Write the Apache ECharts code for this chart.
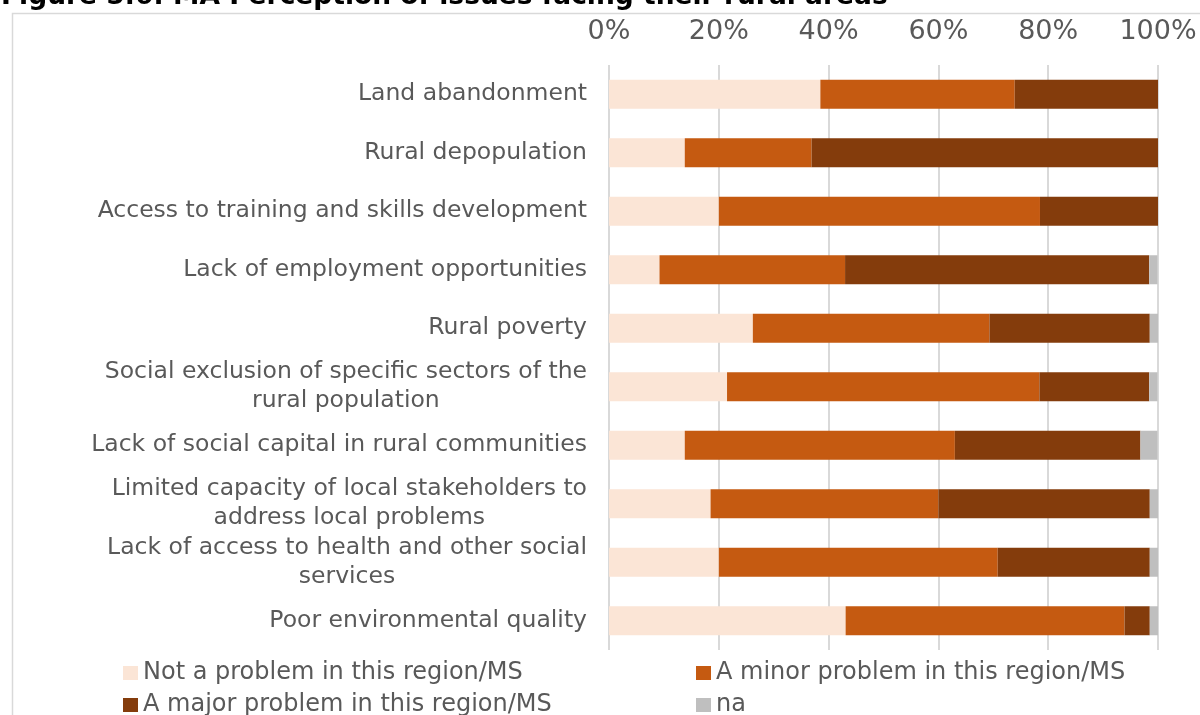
<!DOCTYPE html>
<html>
<head>
<meta charset="utf-8">
<script src="https://cdn.jsdelivr.net/npm/echarts@6/dist/echarts.min.js"></script>
<style>
  html, body { margin: 0; padding: 0; background: #fff; }
  #chart { width: 1200px; height: 715px; }
</style>
</head>
<body>
<div id="chart"></div>
<script>
// categories, top to bottom
var categories = [
  'Land abandonment',
  'Rural depopulation',
  'Access to training and skills development',
  'Lack of employment opportunities',
  'Rural poverty',
  'Social exclusion of specific sectors of the\nrural population',
  'Lack of social capital in rural communities',
  'Limited capacity of local stakeholders to\naddress local problems',
  'Lack of access to health and other social\nservices',
  'Poor environmental quality'
];

// share of answers, %
var notProblem = [38.5, 13.8, 20.0, 9.2, 26.2, 21.5, 13.8, 18.5, 20.0, 43.1];
var minorProblem = [35.4, 23.1, 58.5, 33.8, 43.1, 56.9, 49.2, 41.5, 50.8, 50.8];
var majorProblem = [26.1, 63.1, 21.5, 55.4, 29.2, 20.0, 33.8, 38.5, 27.7, 4.6];
var naShare = [0, 0, 0, 1.5, 1.5, 1.5, 3.1, 1.5, 1.5, 1.5];

var seriesNames = [
  'Not a problem in this region/MS',
  'A minor problem in this region/MS',
  'A major problem in this region/MS',
  'na'
];
var xTicks = [0, 20, 40, 60, 80, 100];

var FONT = '"DejaVu Sans", Verdana, sans-serif';
var labelSize = 23.5;

// two-line labels: lines centred on each other, block right aligned to the axis
var ctx = document.createElement('canvas').getContext('2d');
ctx.font = labelSize + 'px ' + FONT;
var yData = categories.map(function (name) {
  if (name.indexOf('\n') < 0) return name;
  var w = 0;
  name.split('\n').forEach(function (l) { w = Math.max(w, ctx.measureText(l).width); });
  return { value: name, textStyle: { align: 'center', padding: [0, w, 0, 0] } };
});

var chart = echarts.init(document.getElementById('chart'));

var legendBase = {
  orient: 'vertical',
  top: 656,
  height: 80,
  itemWidth: 15, itemHeight: 14, itemGap: 8,
  icon: 'rect',
  textStyle: { fontSize: 24, color: '#595959', fontFamily: FONT }
};

var option = {
  animation: false,
  color: ['#FBE5D6', '#C55A11', '#843C0C', '#BFBFBF'],
  textStyle: { fontFamily: FONT },
  graphic: [
    {
      type: 'rect',
      left: 10, top: 11,
      shape: { width: 1300, height: 800 },
      style: { fill: 'none', stroke: '#D9D9D9', lineWidth: 1.5 },
      silent: true
    },
    {
      type: 'text',
      x: 1, y: -3,
      style: {
        text: 'Figure 5.6: MA Perception of issues facing their rural areas',
        font: 'bold 26.5px ' + FONT,
        fill: '#000',
        verticalAlign: 'middle'
      }
    }
  ],
  legend: [
    Object.assign({ left: 118, data: [seriesNames[0], seriesNames[2]] }, legendBase),
    Object.assign({ left: 691, data: [seriesNames[1], seriesNames[3]] }, legendBase)
  ],
  grid: { left: 609, right: 42, top: 65, bottom: 65, containLabel: false },
  xAxis: {
    type: 'value',
    position: 'top',
    min: xTicks[0],
    max: xTicks[xTicks.length - 1],
    interval: 20,
    axisLine: { show: false },
    axisTick: { show: false },
    splitLine: { show: true, lineStyle: { color: '#D9D9D9', width: 2 } },
    axisLabel: {
      formatter: '{value}%',
      fontSize: 27,
      color: '#595959',
      margin: 20,
      fontFamily: FONT
    }
  },
  yAxis: {
    type: 'category',
    inverse: true,
    data: yData,
    axisLine: { show: false },
    axisTick: { show: false },
    axisLabel: {
      fontSize: labelSize,
      color: '#595959',
      margin: 22,
      lineHeight: 29,
      interval: 0,
      fontFamily: FONT
    }
  },
  series: [
    { name: seriesNames[0], type: 'bar', stack: 'all', barWidth: 29, data: notProblem },
    { name: seriesNames[1], type: 'bar', stack: 'all', barWidth: 29, data: minorProblem },
    { name: seriesNames[2], type: 'bar', stack: 'all', barWidth: 29, data: majorProblem },
    { name: seriesNames[3], type: 'bar', stack: 'all', barWidth: 29, data: naShare }
  ]
};

chart.setOption(option);
</script>
</body>
</html>
